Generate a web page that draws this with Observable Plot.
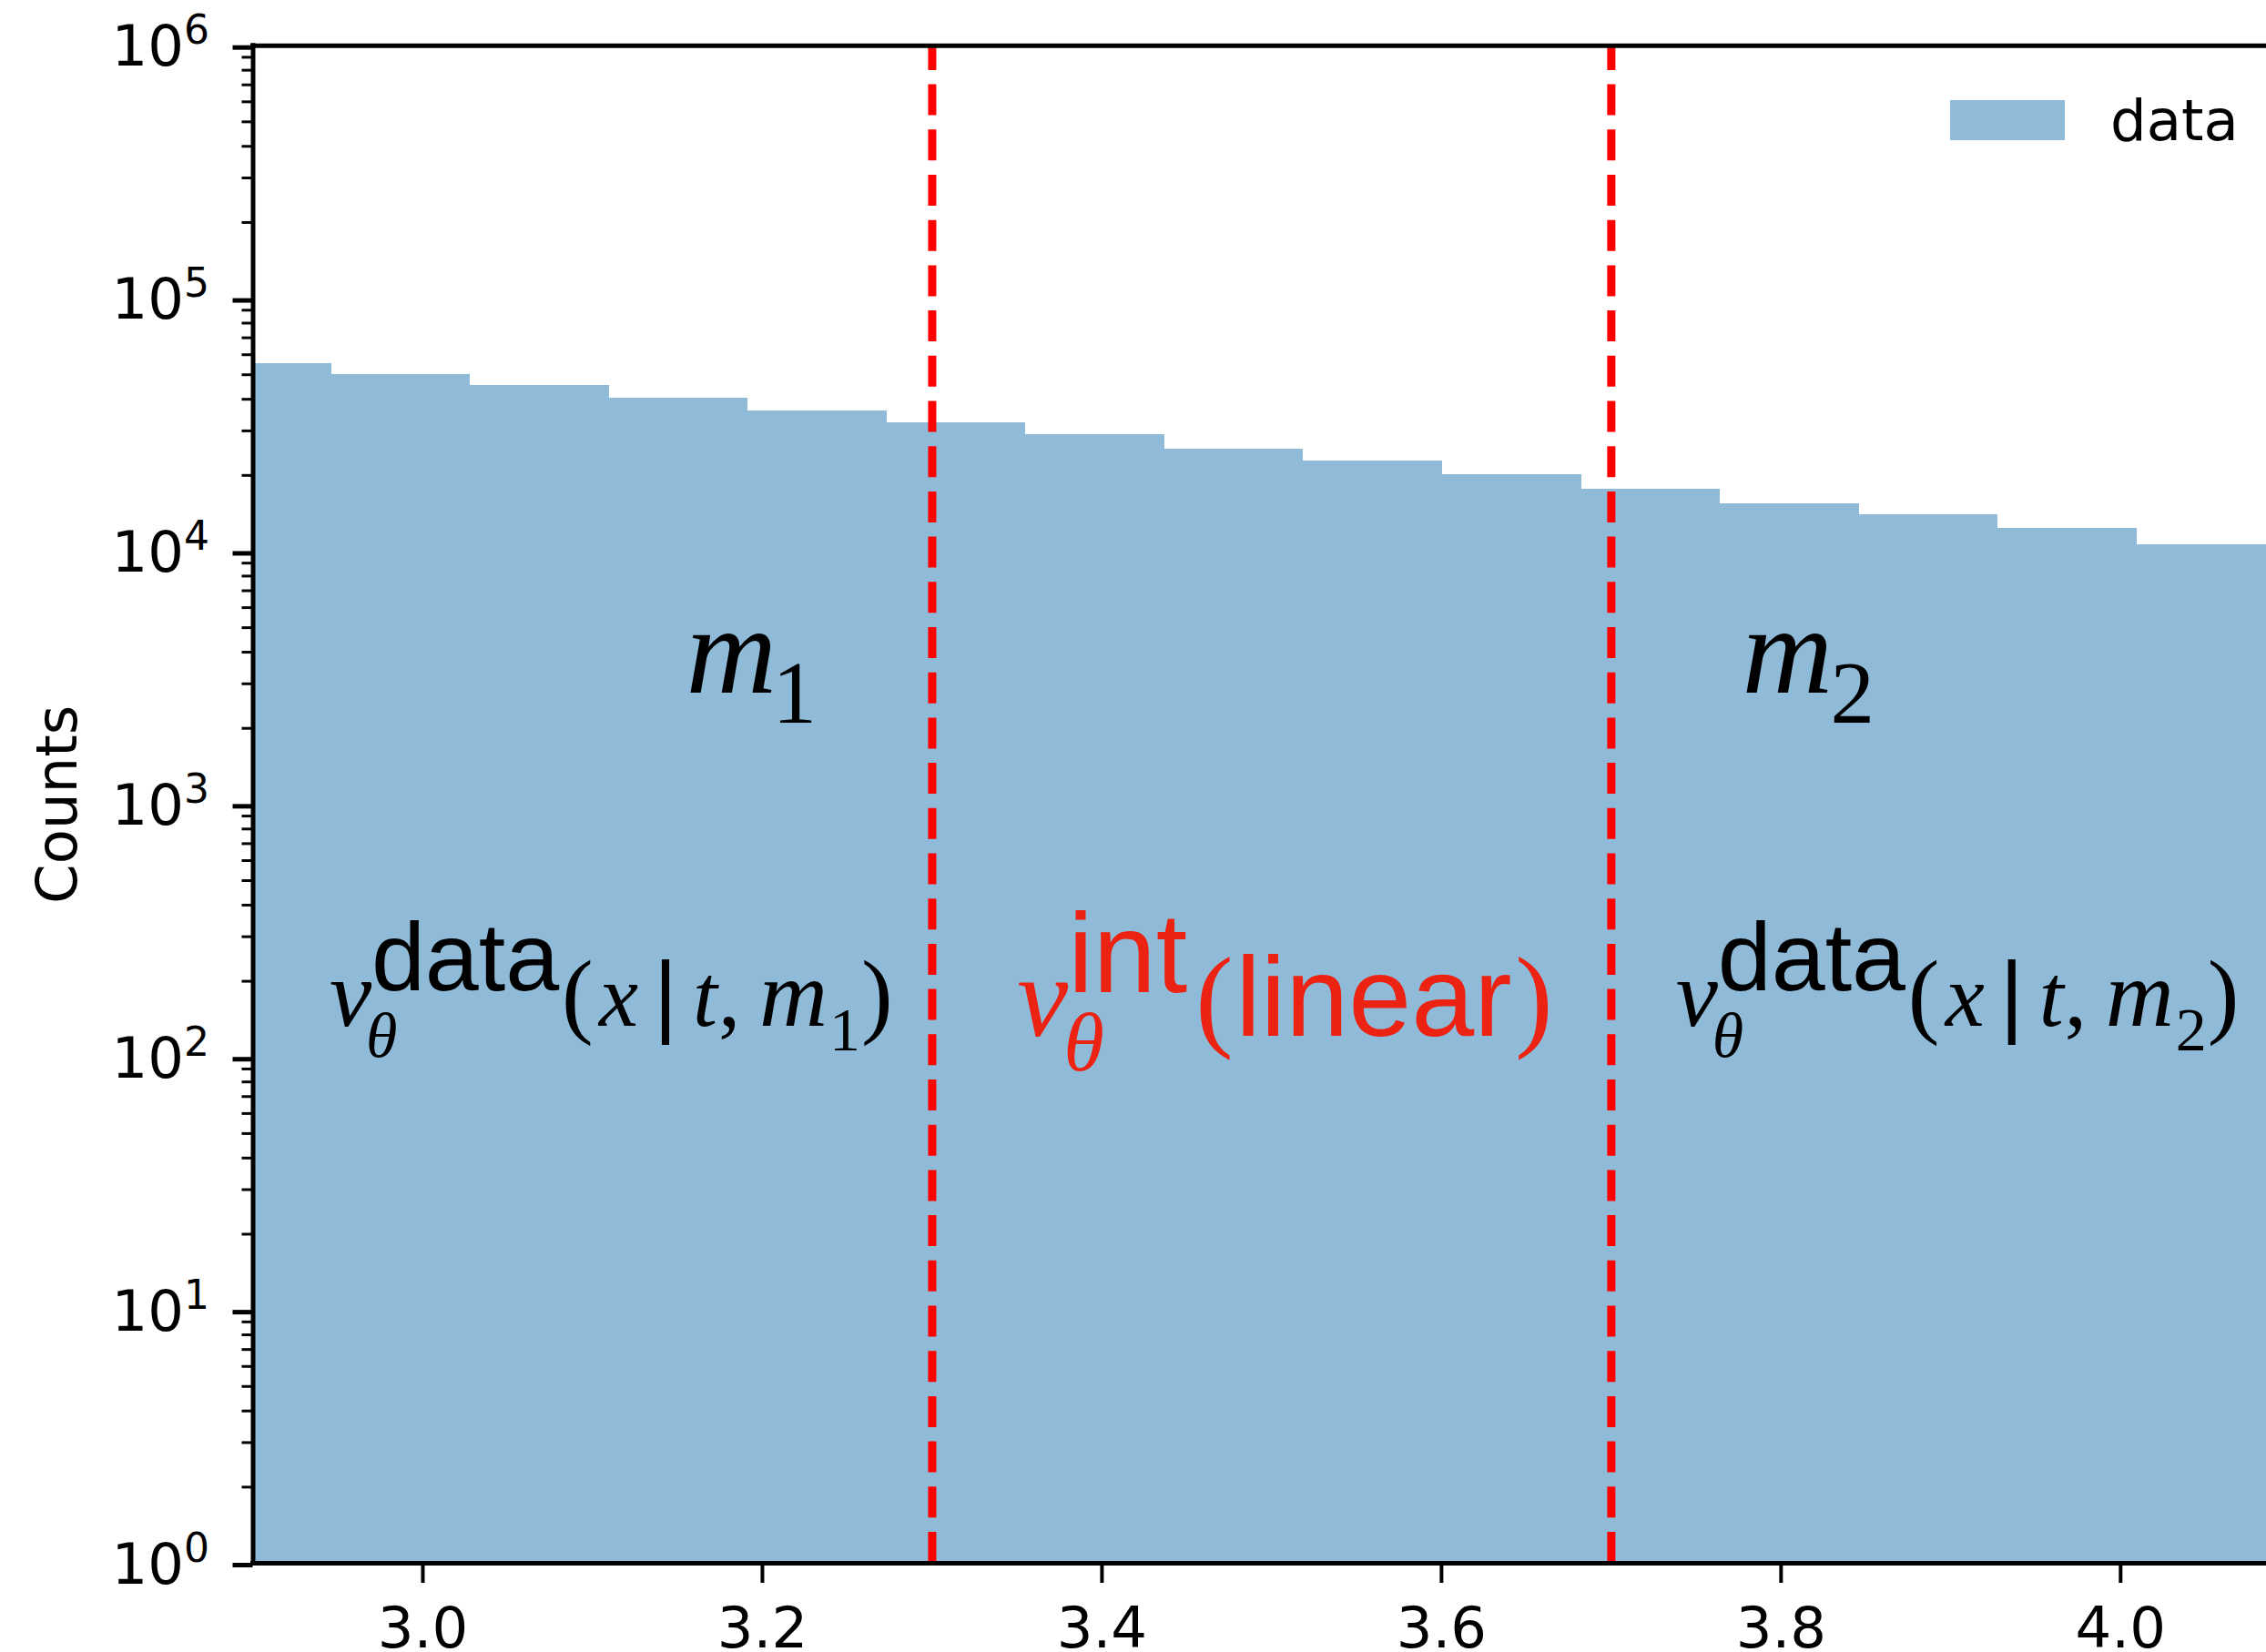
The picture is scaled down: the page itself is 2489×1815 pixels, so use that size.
<!DOCTYPE html>
<html>
<head>
<meta charset="utf-8">
<script src="https://cdn.jsdelivr.net/npm/d3@7"></script>
<script src="https://cdn.jsdelivr.net/npm/@observablehq/plot@0.6"></script>
<style>
  html, body { margin: 0; padding: 0; background: #fff; }
  #chart svg { display: block; max-width: none; }
</style>
</head>
<body>
<div id="chart"></div>
<script>
// Histogram: 15 equal-width bins (edges) and the counts in each bin
const binEdges = [2.8644, 2.9462, 3.0280, 3.1098, 3.1916, 3.2734, 3.3552, 3.4370,
                  3.5188, 3.6006, 3.6824, 3.7642, 3.8460, 3.9278, 4.0096, 4.0914];
const counts = [55400, 50100, 45400, 40400, 36000, 32300, 29000, 25400,
                22800, 20100, 17600, 15500, 14000, 12300, 10600];
const seriesName = "data";

// Axis ticks
const xTicks = [3.0, 3.2, 3.4, 3.6, 3.8, 4.0];
const yExponents = [0, 1, 2, 3, 4, 5, 6];

// Region boundaries (dashed lines)
const boundaries = [3.3, 3.7];

// Region annotations (text baseline-start position in data units)
const annotations = [
  {x: 3.155, y: 2760, label: "m1"},
  {x: 3.777, y: 2760, label: "m2"},
  {x: 2.945, y: 133, label: "v_θ^data(x|t,m1)"},
  {x: 3.350, y: 122, label: "v_θ^int(linear)"},
  {x: 3.738, y: 133, label: "v_θ^data(x|t,m2)"}
];

const bins = counts.map((c, i) => ({x0: binEdges[i], x1: binEdges[i + 1], count: c}));
const yMajor = yExponents.map(e => 10 ** e);
const yMinor = yExponents.slice(0, -1).flatMap(e => d3.range(2, 10).map(m => m * 10 ** e));

const BAR = "#1f77b4";
const RED_TEXT = "#ec2212";
const SERIF = "'Liberation Serif', 'Times New Roman', serif";
const SANS = "'Liberation Sans', Arial, Helvetica, sans-serif";

const chart = Plot.plot({
  width: 2489,
  height: 1815,
  marginLeft: 277.5,
  marginRight: 0,
  marginTop: 49.7,
  marginBottom: 98,
  style: {fontFamily: "'DejaVu Sans', sans-serif", fontSize: "62.5px", background: "#fff", color: "#000", overflow: "visible"},
  x: {domain: [2.9, 4.0859]},
  y: {type: "log", domain: [1, 1e6]},
  marks: [
    Plot.rect(bins, {x1: "x0", x2: "x1", y1: () => 1, y2: "count", fill: BAR, fillOpacity: 0.5, clip: true, shapeRendering: "crispEdges"}),
    Plot.ruleX(boundaries, {x: d => d, y1: () => 1, y2: () => 1e6, stroke: "#ff0000", strokeWidth: 9, strokeDasharray: "34,15.7"}),
    Plot.text(annotations, {x: "x", y: "y", text: "label", textAnchor: "start", fill: "#000"}),
    Plot.text(["Counts"], {text: d => d, frameAnchor: "left", rotate: -90, dx: -214, textAnchor: "middle", fontSize: 62.5}),
    Plot.axisX({ticks: xTicks, tickFormat: d3.format(".1f"), tickSize: 22, tickPadding: 26, strokeWidth: 4, label: null}),
    Plot.axisY({ticks: yMajor, tickFormat: d => `10^${Math.round(Math.log10(d))}`, tickSize: 22, tickPadding: 26, strokeWidth: 5, label: null, dy: 2}),
    Plot.axisY({ticks: yMinor, tickFormat: () => "", tickSize: 12, strokeWidth: 3, label: null}),
    Plot.ruleX([2.9], {strokeWidth: 5, strokeLinecap: "square"}),
    Plot.ruleY([1, 1e6], {strokeWidth: 5, strokeLinecap: "square"})
  ]
});

document.getElementById("chart").append(chart);

const svg = d3.select(chart);
const xs = chart.scale("x");
const ys = chart.scale("y");

// Tick line weights: x ticks, then major and minor y ticks
const setWidth = (g, w) => { d3.select(g).attr("stroke-width", w).selectAll("*").attr("stroke-width", w); };
svg.selectAll('g[aria-label="x-axis tick"]').each(function () { setWidth(this, 4); });
const yTickGroups = svg.selectAll('g[aria-label="y-axis tick"]').nodes();
if (yTickGroups[0]) setWidth(yTickGroups[0], 5);
if (yTickGroups[1]) setWidth(yTickGroups[1], 3);

// Power-of-ten tick labels: "10" with a raised exponent
svg.selectAll('g[aria-label="y-axis tick label"] text').each(function () {
  const m = /^10\^(\d+)$/.exec(this.textContent);
  if (!m) return;
  const t = d3.select(this);
  t.text("10");
  t.append("tspan").attr("dy", -24).attr("font-size", 44).text(m[1]);
});

// Math-style typesetting for the annotations
const seg = (s, x, y, size, family, italic = false) => ({s, x, y, size, family, italic});
const dataFormula = sub => [
  seg("v", 0, 0, 104, SERIF, true),
  seg("θ", 40, 34, 70, SERIF, true),
  seg("data", 46, -39, 106, SANS),
  seg("(", 255, 0, 104, SERIF),
  seg("x", 296, 0, 97, SERIF, true),
  seg("|", 356, 0, 100, SANS),
  seg("t", 399, 0, 97, SERIF, true),
  seg(",", 427, 0, 97, SERIF),
  seg("m", 472, 0, 104, SERIF, true),
  seg(sub, 549, 27, 68, SERIF),
  seg(")", 584, 0, 104, SERIF)
];
const layouts = {
  "m1": {fill: "#000", parts: [seg("m", 0, 0, 138, SERIF, true), seg("1", 95, 33, 97, SERIF)]},
  "m2": {fill: "#000", parts: [seg("m", 0, 0, 138, SERIF, true), seg("2", 97, 33, 97, SERIF)]},
  "v_θ^data(x|t,m1)": {fill: "#000", parts: dataFormula("1")},
  "v_θ^data(x|t,m2)": {fill: "#000", parts: dataFormula("2")},
  "v_θ^int(linear)": {fill: RED_TEXT, parts: [
    seg("v", 0, 0, 126, SERIF, true),
    seg("θ", 51, 38, 91, SERIF, true),
    seg("int", 56, -48, 124, SANS),
    seg("(", 196, 0, 124, SERIF),
    seg("linear", 240, 0, 124, SANS),
    seg(")", 547, 0, 124, SERIF)
  ]}
};

svg.selectAll("text").each(function () {
  const key = this.textContent;
  const layout = layouts[key];
  const a = annotations.find(d => d.label === key);
  if (!layout || !a) return;
  const t = d3.select(this);
  t.attr("x", null).attr("y", null).attr("dy", null).attr("dx", null)
    .attr("transform", `translate(${xs.apply(a.x)},${ys.apply(a.y)})`)
    .attr("text-anchor", "start");
  t.text(null);
  for (const p of layout.parts) {
    t.append("tspan")
      .attr("x", p.x)
      .attr("y", p.y)
      .attr("font-size", p.size)
      .attr("font-family", p.family)
      .attr("font-style", p.italic ? "italic" : "normal")
      .attr("fill", layout.fill)
      .text(p.s);
  }
});

// Legend in the upper-right corner of the axes
const legend = svg.append("g").attr("aria-label", "legend");
legend.append("rect")
  .attr("x", 2142).attr("y", 110).attr("width", 126).attr("height", 44)
  .attr("fill", BAR).attr("fill-opacity", 0.5);
legend.append("text")
  .attr("x", 2318).attr("y", 154)
  .attr("text-anchor", "start")
  .attr("font-family", "'DejaVu Sans', sans-serif")
  .attr("font-size", 62.5)
  .attr("fill", "#000")
  .text(seriesName);
</script>
</body>
</html>
